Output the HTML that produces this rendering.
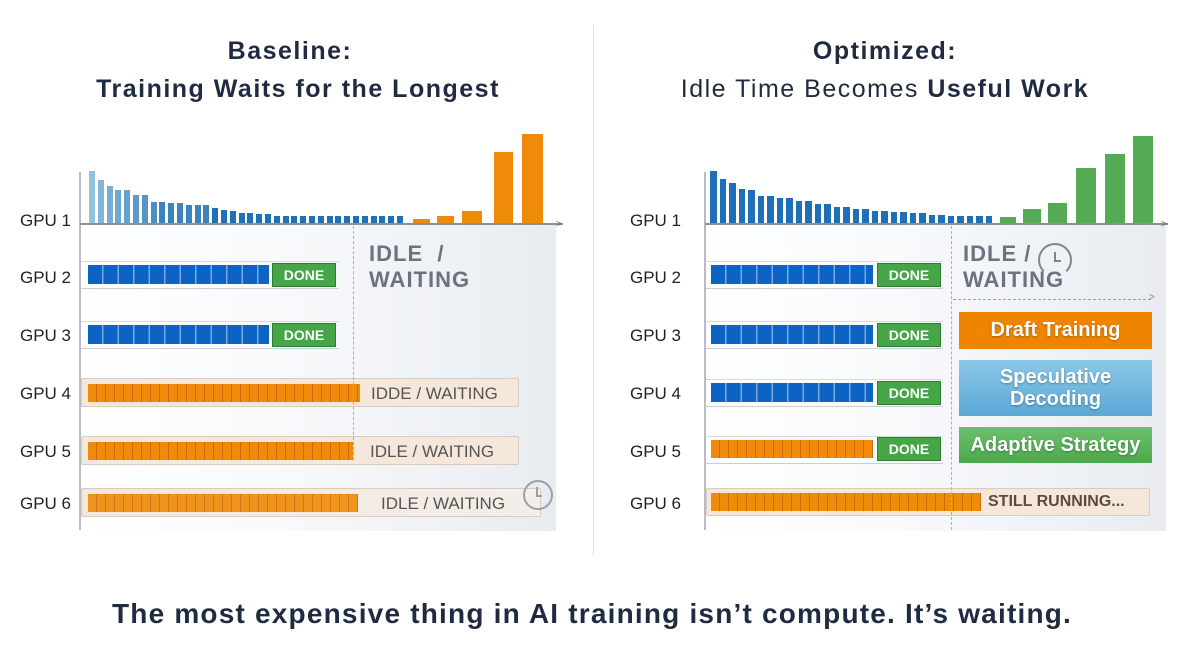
<!DOCTYPE html>
<html><head><meta charset="utf-8"><style>
*{margin:0;padding:0;box-sizing:border-box}
body{width:1204px;height:670px;background:#fff;position:relative;overflow:hidden;font-family:"Liberation Sans","DejaVu Sans",sans-serif;color:#1e2a3e}
.a{position:absolute}
.t{position:absolute;text-align:center;font-size:25px;color:#1f2b40;white-space:nowrap;letter-spacing:1.5px}
.lbl{position:absolute;font-size:17px;color:#222;width:60px}
.panel{position:absolute;background:linear-gradient(90deg,#fff 0%,#f7f9fb 45%,#e8ecf1 100%)}
.track{position:absolute;border-top:1.5px solid #d6dae0;border-bottom:1.5px solid #c9ced6}
.seg{position:absolute;background-image:repeating-linear-gradient(90deg,rgba(255,255,255,0) 0,rgba(255,255,255,0) 14px,rgba(255,255,255,.45) 14px,rgba(255,255,255,.45) 15.5px)}
.bl{background-color:#0b63c4}
.or{background-color:#f08a0a;background-image:repeating-linear-gradient(90deg,rgba(0,0,0,0) 0,rgba(0,0,0,0) 8px,rgba(160,70,0,.45) 8px,rgba(160,70,0,.45) 9px)}
.done{position:absolute;background:#46a546;border:1px solid #2f7d32;color:#fff;font-weight:bold;font-size:14px;text-align:center;line-height:22px}
.peach{position:absolute;background:#f5e7da;border:1px solid #d9cbbd;border-radius:2px;color:#555;font-size:17px}
.big{position:absolute;color:#fff;font-weight:bold;text-align:center;text-shadow:0 1px 2px rgba(0,0,0,.3)}
</style></head><body>
<div class="a" style="left:593px;top:25px;width:1px;height:530px;background:#ddd"></div>
<div class="t" style="left:90px;width:400px;top:37px;font-weight:bold">Baseline:</div>
<div class="t" style="left:48px;width:500px;top:75px;font-weight:bold">Training Waits for the Longest</div>
<div class="t" style="left:685px;width:400px;top:37px;font-weight:bold">Optimized:</div>
<div class="t" style="left:635px;width:500px;top:75px">Idle Time Becomes <b>Useful Work</b></div>
<div class="t" style="left:0;width:1184px;top:598px;font-size:28px;font-weight:bold;letter-spacing:1.2px">The most expensive thing in AI training isn’t compute. It’s waiting.</div>

<div class="panel" style="left:80px;top:224px;width:476px;height:307px"></div>
<div class="panel" style="left:705px;top:224px;width:461px;height:307px"></div>
<div id="bars"></div>
<div class="a" style="left:79px;top:172px;width:2px;height:358px;background:#b8bcc4"></div>
<div class="a" style="left:80px;top:223px;width:483px;height:1.5px;background:#8a9099"></div>
<div class="a" style="left:556px;top:219px;font-size:10px;color:#666">&gt;</div>
<div class="a" style="left:704px;top:172px;width:2px;height:358px;background:#b8bcc4"></div>
<div class="a" style="left:705px;top:223px;width:463px;height:1.5px;background:#8a9099"></div>
<div class="a" style="left:1161px;top:219px;font-size:10px;color:#666">&gt;</div>

<div class="lbl" style="left:20px;top:211px">GPU 1</div>
<div class="lbl" style="left:20px;top:268px">GPU 2</div>
<div class="lbl" style="left:20px;top:326px">GPU 3</div>
<div class="lbl" style="left:20px;top:384px">GPU 4</div>
<div class="lbl" style="left:20px;top:442px">GPU 5</div>
<div class="lbl" style="left:20px;top:494px">GPU 6</div>
<div class="lbl" style="left:630px;top:211px">GPU 1</div>
<div class="lbl" style="left:630px;top:268px">GPU 2</div>
<div class="lbl" style="left:630px;top:326px">GPU 3</div>
<div class="lbl" style="left:630px;top:384px">GPU 4</div>
<div class="lbl" style="left:630px;top:442px">GPU 5</div>
<div class="lbl" style="left:630px;top:494px">GPU 6</div>

<div class="track" style="left:81px;top:261px;width:258px;height:28px"></div>
<div class="seg bl" style="left:88px;top:265px;width:181px;height:19px"></div>
<div class="done" style="left:272px;top:263px;width:64px;height:24px">DONE</div>
<div class="track" style="left:81px;top:321px;width:258px;height:28px"></div>
<div class="seg bl" style="left:88px;top:325px;width:181px;height:19px"></div>
<div class="done" style="left:272px;top:323px;width:64px;height:24px">DONE</div>
<div class="peach" style="left:81px;top:378px;width:438px;height:29px;padding:5px 0 0 289px">IDDE / WAITING</div>
<div class="seg or" style="left:88px;top:384px;width:272px;height:18px"></div>
<div class="peach" style="left:81px;top:436px;width:438px;height:29px;padding:5px 0 0 288px">IDLE / WAITING</div>
<div class="seg or" style="left:88px;top:442px;width:265px;height:18px"></div>
<div class="peach" style="left:81px;top:488px;width:460px;height:29px;padding:5px 0 0 299px;background:linear-gradient(90deg,#f5e7da,#f4eee9)">IDLE / WAITING</div>
<div class="seg or" style="left:88px;top:494px;width:270px;height:18px;opacity:.9"></div>
<div class="a" style="left:523px;top:480px;width:30px;height:30px;border:2px solid #9aa0aa;border-radius:50%"></div>
<div class="a" style="left:536px;top:487px;width:6px;height:10px;border-left:2px solid #9aa0aa;border-bottom:2px solid #9aa0aa"></div>
<div class="a" style="left:353px;top:226px;height:234px;border-left:1.5px dashed #aab0b8"></div>
<div class="a" style="left:369px;top:241px;font-size:22px;line-height:26px;color:#6b7280;font-weight:bold;letter-spacing:1px">IDLE &nbsp;/<br>WAITING</div>

<div class="track" style="left:706px;top:261px;width:237px;height:28px"></div>
<div class="seg bl" style="left:711px;top:265px;width:162px;height:19px"></div>
<div class="done" style="left:877px;top:263px;width:64px;height:24px">DONE</div>
<div class="track" style="left:706px;top:321px;width:237px;height:28px"></div>
<div class="seg bl" style="left:711px;top:325px;width:162px;height:19px"></div>
<div class="done" style="left:877px;top:323px;width:64px;height:24px">DONE</div>
<div class="track" style="left:706px;top:379px;width:237px;height:28px"></div>
<div class="seg bl" style="left:711px;top:383px;width:162px;height:19px"></div>
<div class="done" style="left:877px;top:381px;width:64px;height:24px">DONE</div>
<div class="track" style="left:706px;top:436px;width:237px;height:28px"></div>
<div class="seg or" style="left:711px;top:440px;width:162px;height:18px"></div>
<div class="done" style="left:877px;top:437px;width:64px;height:24px">DONE</div>
<div class="peach" style="left:706px;top:488px;width:444px;height:28px;padding:4px 0 0 281px;font-size:16px;font-weight:bold;color:#5d4a3c">STILL RUNNING...</div>
<div class="seg or" style="left:711px;top:493px;width:270px;height:18px"></div>
<div class="a" style="left:951px;top:226px;height:304px;border-left:1.5px dashed #aab0b8"></div>
<div class="a" style="left:953px;top:299px;width:198px;border-top:1.5px dashed #9aa0aa"></div>
<div class="a" style="left:1149px;top:292px;font-size:10px;color:#888">&gt;</div>
<div class="a" style="left:963px;top:241px;font-size:22px;line-height:26px;color:#6b7280;font-weight:bold;letter-spacing:1px">IDLE /<br>WAITING</div>
<div class="a" style="left:1038px;top:243px;width:34px;height:34px;border:2.5px solid #7e8590;border-radius:50%;border-bottom-color:transparent"></div>
<div class="a" style="left:1054px;top:252px;width:7px;height:10px;border-left:2px solid #7e8590;border-bottom:2px solid #7e8590"></div>
<div class="big" style="left:959px;top:312px;width:193px;height:37px;background:#ef8400;font-size:20px;line-height:37px">Draft Training</div>
<div class="big" style="left:959px;top:360px;width:193px;height:56px;background:linear-gradient(180deg,#8cc8e8,#5aa8d4);font-size:20px;line-height:22px;padding-top:6px">Speculative<br>Decoding</div>
<div class="big" style="left:959px;top:427px;width:193px;height:36px;background:linear-gradient(180deg,#6cc06c,#4ca84c);font-size:20px;line-height:36px">Adaptive Strategy</div>

<script>
var h=[52,43,37,33,33,28,28,21,21,20,20,18,18,18,15,13,12,10,10,9,9,7,7,7,7,7,7,7,7,7,7,7,7,7,7,7];
var o='';
for(var i=0;i<36;i++){var x=89+i*8.8;var c=i<8?'#'+['8fc3e0','82b6d8','78aed4','6ea8d1','66a2cd','5c9bc9','5596c6','4a8fc2'][i]:(i<14?'#3b84bd':'#1f72b6');
o+='<div class="a" style="left:'+x+'px;top:'+(223-h[i])+'px;width:6px;height:'+h[i]+'px;background:'+c+'"></div>';}
var ob=[[413,17,4],[437,17,7],[462,20,12],[494,19,71],[522,21,89]];
ob.forEach(function(b){o+='<div class="a" style="left:'+b[0]+'px;top:'+(223-b[2])+'px;width:'+b[1]+'px;height:'+b[2]+'px;background:#f08a0a"></div>';});
var h2=[52,44,40,34,33,27,27,25,25,22,22,19,19,16,16,14,14,12,12,11,11,10,10,8,8,7,7,7,7,7];
for(var i=0;i<30;i++){var x=710+i*9.5;o+='<div class="a" style="left:'+x+'px;top:'+(223-h2[i])+'px;width:6.5px;height:'+h2[i]+'px;background:#1f6fb8"></div>';}
var gb=[[1000,16,6],[1023,18,14],[1048,19,20],[1076,20,55],[1105,20,69],[1133,20,87]];
gb.forEach(function(b){o+='<div class="a" style="left:'+b[0]+'px;top:'+(223-b[2])+'px;width:'+b[1]+'px;height:'+b[2]+'px;background:#54ab54"></div>';});
document.getElementById('bars').innerHTML=o;
</script>
</body></html>
